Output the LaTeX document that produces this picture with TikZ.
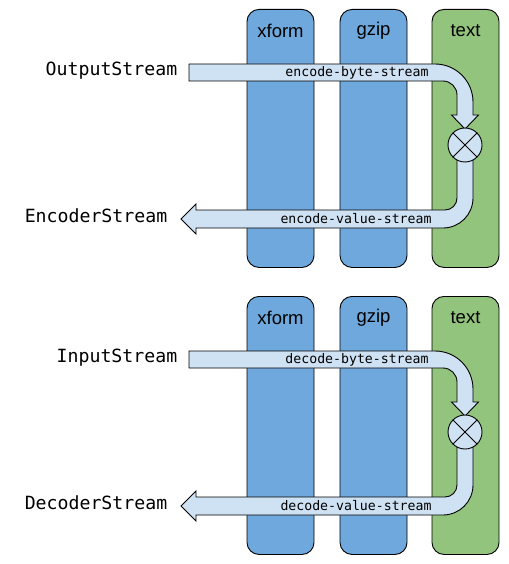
\documentclass[tikz,border=0pt]{standalone}
\usepackage{fontspec}
\setmainfont{Liberation Sans}
\newfontfamily\monof{DejaVu Sans Mono}
\definecolor{colblue}{HTML}{6FA8DC}
\definecolor{colgreen}{HTML}{93C47D}
\definecolor{arrowfill}{HTML}{CFE2F3}
\begin{document}
\begin{tikzpicture}[x=1pt,y=-1pt,line width=0.9pt,
  colbox/.style={draw=black,rounded corners=12pt,minimum width=67pt,minimum height=258pt,anchor=north,inner sep=0pt},
  collabel/.style={font=\fontsize{18.5}{21}\selectfont,anchor=center},
  flow/.style={draw=black,fill=arrowfill,line join=miter},
  flowlabel/.style={font=\monof\fontsize{13.2}{15}\selectfont,anchor=center},
  sidelabel/.style={font=\monof\fontsize{18.2}{21}\selectfont,anchor=east},
  mixer/.style={draw=black,fill=arrowfill,circle,minimum size=34pt,inner sep=0pt}]
\useasboundingbox (0,0) rectangle (508,564);
\foreach \oy/\ina/\outa/\byte/\val/\sfx in {0/OutputStream/EncoderStream/encode-byte-stream/encode-value-stream/a,287/InputStream/DecoderStream/decode-byte-stream/decode-value-stream/b}{
\begin{scope}[yshift=-\oy pt]
  \node[colbox,fill=colblue] (xform\sfx) at (280.5,9) {};
  \node[colbox,fill=colblue] (gzip\sfx) at (373.5,9) {};
  \node[colbox,fill=colgreen] (text\sfx) at (465.5,9) {};
  \node[collabel] at (280.5,31) {xform};
  \node[collabel] at (373.5,31) {gzip};
  \node[collabel] at (465.5,31) {text};
  % bottom (output) flow
  \draw[flow] (473,160) -- (473,198) arc[start angle=0,end angle=90,radius=30]
     -- (196,228) -- (196,234) -- (181,219) -- (196,204) -- (196,210)
     -- (445,210) arc[start angle=90,end angle=0,radius=12] -- (457,160) -- cycle;
  % top (input) flow
  \draw[flow] (189,64) -- (435,64) arc[start angle=-90,end angle=0,radius=38]
     -- (473,115) -- (478.5,115) -- (465,129) -- (451.5,115) -- (457,115)
     -- (457,95) arc[start angle=0,end angle=-90,radius=14] -- (189,81) -- cycle;
  \node[mixer] (mix\sfx) at (465,145) {};
  \draw (mix\sfx.north west) -- (mix\sfx.south east);
  \draw (mix\sfx.north east) -- (mix\sfx.south west);
  \node[flowlabel] (byte\sfx) at (357,73) {\byte};
  \node[flowlabel] (val\sfx) at (356,219) {\val};
  \node[sidelabel] (in\sfx) at (181,71) {\ina};
  \node[sidelabel] (out\sfx) at (171,216) {\outa};
\end{scope}
}
\end{tikzpicture}
\end{document}
